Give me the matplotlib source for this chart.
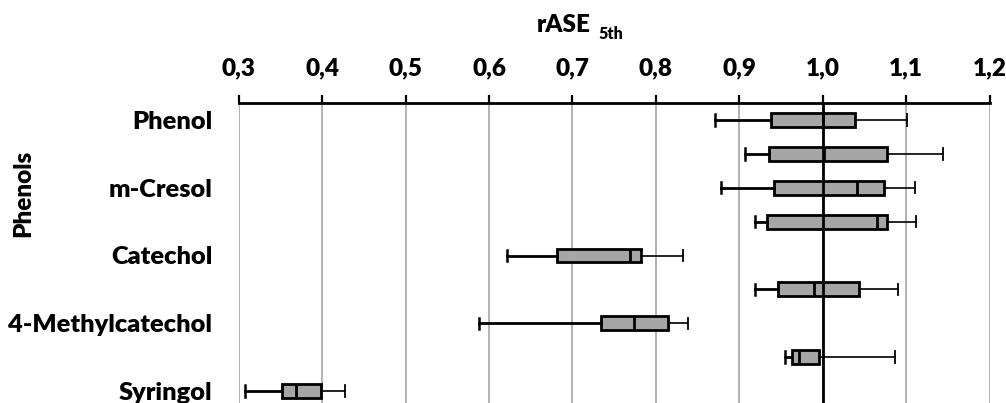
import matplotlib
matplotlib.use("Agg")
import matplotlib.pyplot as plt
from matplotlib.ticker import FuncFormatter

# ---- data ----
row_labels = ["Phenol", "", "m-Cresol", "", "Catechol", "", "4-Methylcatechol", "", "Syringol"]
whisker_low = [0.871, 0.907, 0.878, 0.919, 0.622, 0.919, 0.588, 0.955, 0.307]
q1          = [0.938, 0.936, 0.941, 0.933, 0.682, 0.946, 0.734, 0.963, 0.352]
median      = [1.000, 1.002, 1.041, 1.065, 0.769, 0.990, 0.774, 0.971, 0.369]
q3          = [1.038, 1.077, 1.073, 1.077, 0.782, 1.043, 0.815, 0.996, 0.399]
whisker_high= [1.101, 1.144, 1.110, 1.112, 0.833, 1.090, 0.838, 1.087, 0.427]
x_ticks = [0.3, 0.4, 0.5, 0.6, 0.7, 0.8, 0.9, 1.0, 1.1, 1.2]
x_title = "rASE"
x_title_sub = "5th"
y_title = "Phenols"

FONT = "Lato"
WEIGHT = "heavy"
W, H = 1006, 403
fig = plt.figure(figsize=(W / 100, H / 100), dpi=100)
left_px, right_px, top_px, bottom_px = 238.7, 989.7, 103, 408
ax = fig.add_axes([left_px / W, (H - bottom_px) / H,
                   (right_px - left_px) / W, (bottom_px - top_px) / H])

positions = list(range(len(row_labels)))
stats = []
for i in positions:
    stats.append(dict(whislo=whisker_low[i], q1=q1[i], med=median[i],
                      q3=q3[i], whishi=whisker_high[i], fliers=[]))

res = ax.bxp(stats, positions=positions, vert=False, widths=0.41,
             patch_artist=True, showfliers=False, capwidths=0.34,
             boxprops=dict(facecolor="#a6a6a6", edgecolor="black", linewidth=2.0),
             medianprops=dict(color="black", linewidth=2.0),
             whiskerprops=dict(color="black", linewidth=2.0),
             capprops=dict(color="black", linewidth=1.6))
for art in res["boxes"] + res["medians"] + res["whiskers"] + res["caps"]:
    art.set_zorder(3)
# lower whiskers thick, upper whiskers thin
for k, w in enumerate(res["whiskers"]):
    w.set_linewidth(2.0 if k % 2 == 0 else 1.2)
for k, c in enumerate(res["caps"]):
    c.set_linewidth(1.8 if k % 2 == 0 else 1.3)

ax.set_xlim(0.3, 1.2)
ax.set_ylim(len(row_labels) - 0.5, -0.5)

# grid
for v in x_ticks:
    ax.axvline(v, color="#a6a6a6", linewidth=1.2, zorder=1)
ax.axvline(1.0, color="black", linewidth=2.0, zorder=4)

ax.xaxis.tick_top()
ax.set_xticks(x_ticks)
ax.xaxis.set_major_formatter(FuncFormatter(lambda v, p: f"{v:.1f}".replace(".", ",")))
ax.tick_params(axis="x", direction="out", length=6, width=1.6, pad=11,
               labelsize=17.5, top=True, bottom=False)
for t in ax.get_xticklabels():
    t.set_fontfamily(FONT)
    t.set_fontweight(WEIGHT)

lab_pos = [i for i, l in enumerate(row_labels) if l]
ax.set_yticks(lab_pos)
ax.set_yticklabels([row_labels[i] for i in lab_pos], fontfamily=FONT,
                   fontweight=WEIGHT, fontsize=18.3)
ax.tick_params(axis="y", length=0, pad=19)

for s in ["left", "right", "bottom"]:
    ax.spines[s].set_visible(False)
ax.spines["top"].set_linewidth(2.0)
ax.spines["top"].set_zorder(5)

fig.text(536.7 / W, (H - 32) / H, x_title, fontfamily=FONT, fontweight=WEIGHT,
         fontsize=17.5, ha="left", va="baseline")
fig.text(598 / W, (H - 39) / H, x_title_sub, fontfamily=FONT, fontweight=WEIGHT,
         fontsize=11.5, ha="left", va="baseline")
fig.text(23 / W, (H - 193) / H, y_title, fontfamily=FONT, fontweight=WEIGHT,
         fontsize=17.5, rotation=90, ha="center", va="center")

fig.savefig("out.png", dpi=100, facecolor="white")
